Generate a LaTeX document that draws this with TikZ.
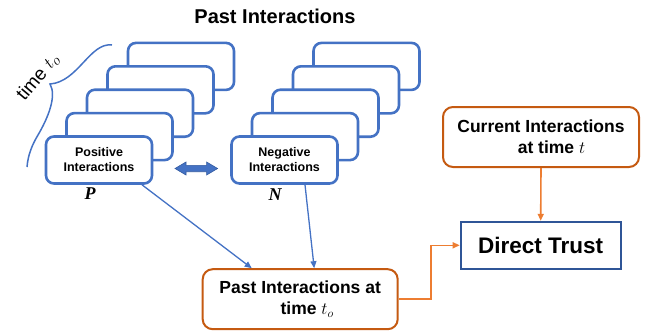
\documentclass[tikz,border=0pt]{standalone}
\usepackage{fontspec}
\setmainfont{Liberation Sans}
\newfontfamily\serifbi{Liberation Serif}
\usetikzlibrary{arrows.meta,calc}
\definecolor{pblue}{HTML}{4472C4}
\definecolor{dblue}{HTML}{2F5597}
\definecolor{oborder}{HTML}{C55A11}
\definecolor{oline}{HTML}{ED7D31}
\tikzset{
  stackbox/.style={draw=pblue,line width=2.6pt,fill=white,rounded corners=8pt,minimum width=106pt,minimum height=47pt,inner sep=0pt,font=\fontsize{12.5}{15}\selectfont\bfseries,align=center},
  obox/.style={draw=oborder,line width=2pt,fill=white,rounded corners=10pt,inner sep=0pt,align=center,font=\fontsize{17.5}{21}\selectfont\bfseries},
  dtbox/.style={draw=dblue,line width=2pt,fill=white,inner sep=0pt,minimum width=160pt,minimum height=47pt,font=\fontsize{22.5}{26}\selectfont\bfseries},
  bluearrow/.style={draw=pblue,line width=1.3pt,-{Triangle[length=7pt,width=6pt]}},
  orangearrow/.style={draw=oline,line width=1.6pt,-{Triangle[length=7pt,width=6pt]}},
  setlabel/.style={font=\fontsize{18}{20}\selectfont\serifbi\bfseries\itshape}
}
\begin{document}
\begin{tikzpicture}[x=1pt,y=-1pt]
\useasboundingbox (0,0) rectangle (657,335);
% title
\node[font=\fontsize{20}{24}\selectfont\bfseries] (title) at (275,16) {Past Interactions};
% time brace
\draw[pblue,line width=1.5pt] (112,45) .. controls (90,42) and (78,82) .. (50,84)
      .. controls (57,96) and (48,118) .. (38,135)
      .. controls (32,145) and (28,155) .. (27,167);
\node[rotate=50,font=\fontsize{19}{22}\selectfont,inner sep=0pt] (timelbl) at (38,77) {time $t_o$};
% positive stack
\foreach \k [count=\i] in {4,3,2,1} {
  \node[stackbox] (pos\i) at ({99+20.5*\k},{160-23.4*\k}) {};
}
\node[stackbox] (posf) at (99,160) {Positive\\Interactions};
% negative stack
\foreach \k [count=\i] in {4,3,2,1} {
  \node[stackbox] (neg\i) at ({284.5+20.5*\k},{160-23.4*\k}) {};
}
\node[stackbox] (negf) at (284.5,160) {Negative\\Interactions};
% labels P, N
\node[setlabel] (plbl) at (90,194) {P};
\node[setlabel] (nlbl) at (275,195) {N};
% double arrow
\coordinate (da) at (196.3,168.5);
\fill[pblue,draw=dblue!80!pblue,line width=0.6pt]
  ($(da)+(-21.3,0)$) -- ++(11,-6.5) -- ++(0,3.3) -- ++(20.6,0) -- ++(0,-3.3)
  -- ++(11,6.5) -- ++(-11,6.5) -- ++(0,-3.3) -- ++(-20.6,0) -- ++(0,3.3) -- cycle;
% right side boxes
\node[obox,minimum width=196pt,minimum height=60pt] (cur) at (541,137)
  {Current Interactions\\\hspace*{1.2em}at time $t$};
\node[dtbox] (dt) at (540.7,245.3) {Direct Trust};
\node[obox,minimum width=195pt,minimum height=60pt] (past) at (300.2,299.2)
  {Past Interactions at\\\hspace*{0.8em}time $t_o$};
% connectors
\draw[bluearrow] ([xshift=43pt]posf.south) -- ([xshift=-48.5pt]past.north);
\draw[bluearrow] ([xshift=20.5pt]negf.south) -- ([xshift=14pt]past.north);
\draw[orangearrow] (past.east) -- ++(32,0) |- (dt.west);
\draw[orangearrow] (cur.south) -- (dt.north);
\end{tikzpicture}
\end{document}
